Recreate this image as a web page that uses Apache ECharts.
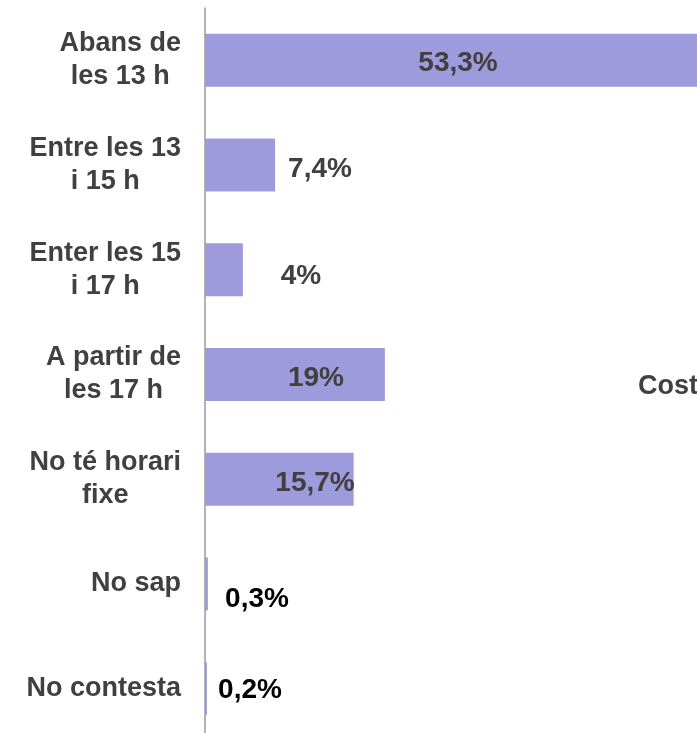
<!DOCTYPE html>
<html>
<head>
<meta charset="utf-8">
<script src="https://cdn.jsdelivr.net/npm/echarts@6/dist/echarts.min.js"></script>
<style>
  html, body { margin: 0; padding: 0; background: #fff; overflow: hidden; }
  /* the chart runs past the right and bottom edges, as in the original crop */
  #chart { width: 780px; height: 741px; }
</style>
</head>
<body>
<div id="chart"></div>
<script>
// categories, top to bottom
const categories = [
    'Abans de\nles 13 h',
    'Entre les 13\ni 15 h',
    'Enter les 15\ni 17 h',
    'A partir de\nles 17 h',
    'No té horari\nfixe',
    'No sap',
    'No contesta'
];
const values = [53.3, 7.4, 4, 19, 15.7, 0.3, 0.2];
const valueLabels = ['53,3%', '7,4%', '4%', '19%', '15,7%', '0,3%', '0,2%'];

// where each value label sits, measured from the bar start (labels were moved by hand)
const labelDx = [253, 115, 96, 111, 110, 52, 45];
const labelDy = [3, 4, 6, 4, 4, 15, 2];
const labelColors = ['#404040', '#404040', '#404040', '#404040', '#404040', '#000000', '#000000'];

const FONT = 'Arial, "Liberation Sans", sans-serif';

const chart = echarts.init(document.getElementById('chart'));

const seriesData = values.map((v, i) => ({
    value: v,
    label: {
        position: [labelDx[i], '50%'],
        offset: [0, labelDy[i]],
        align: 'center',
        verticalAlign: 'middle',
        color: labelColors[i],
        formatter: valueLabels[i]
    }
}));

chart.setOption({
    animation: false,
    backgroundColor: '#fff',
    grid: { left: 205, top: 8, right: 7, bottom: 0 },
    xAxis: {
        type: 'value',
        min: 0,
        max: 60,
        show: false
    },
    yAxis: {
        type: 'category',
        data: categories,
        inverse: true,
        axisLine: { lineStyle: { color: '#9a9a9a', width: 1.5 } },
        axisTick: { show: false },
        axisLabel: {
            margin: 24,
            formatter: v => v.split('\n').map(l => '{c|' + l + '}').join('\n'),
            rich: {
                c: {
                    align: 'center',
                    fontFamily: FONT,
                    fontWeight: 'bold',
                    fontSize: 27,
                    lineHeight: 33,
                    color: '#404040'
                }
            }
        }
    },
    series: [{
        type: 'bar',
        data: seriesData,
        barWidth: 53,
        itemStyle: { color: '#9d9bdc' },
        label: {
            show: true,
            fontFamily: FONT,
            fontWeight: 'bold',
            fontSize: 28
        }
    }],
    graphic: [{
        type: 'text',
        left: 638,
        top: 373,
        style: {
            text: 'Cost',
            fontFamily: FONT,
            fontWeight: 'bold',
            fontSize: 27,
            fill: '#404040'
        }
    }]
});
</script>
</body>
</html>
